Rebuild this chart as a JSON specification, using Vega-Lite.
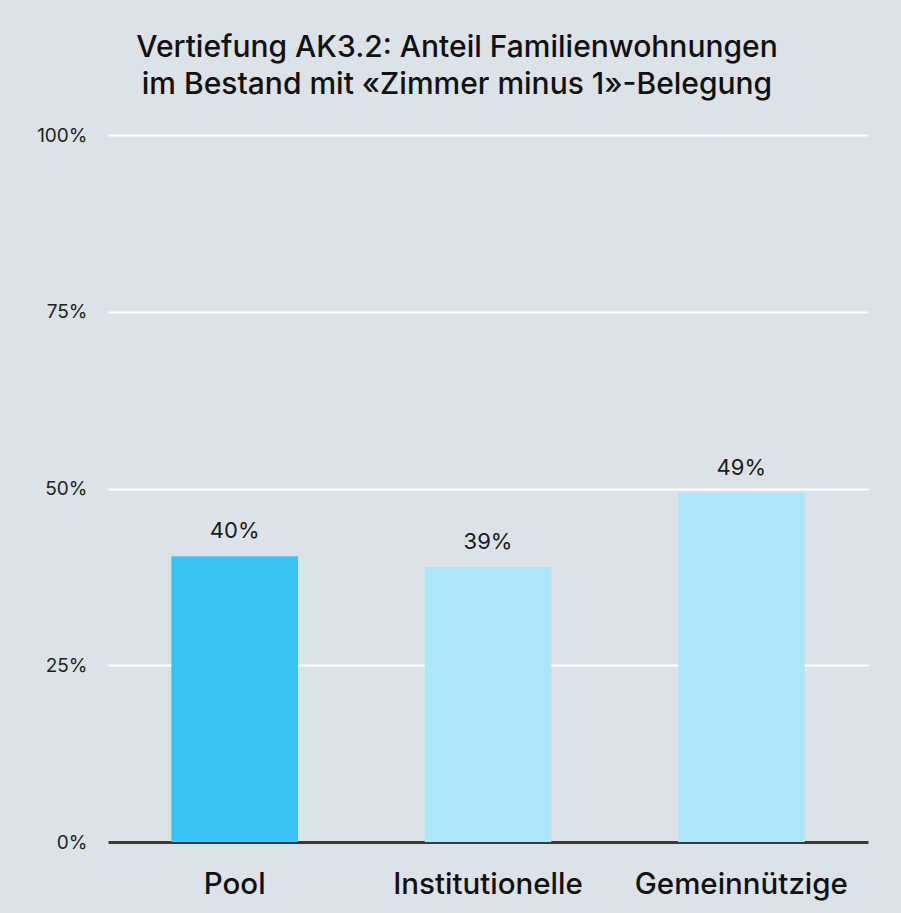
{
  "$schema": "https://vega.github.io/schema/vega-lite/v6.json",
  "width": 760,
  "height": 707,
  "autosize": "none",
  "padding": {"left": 108, "top": 135, "right": 33, "bottom": 71},
  "background": "#dce2e8",
  "config": {
    "view": {"stroke": null},
    "font": "Inter"
  },
  "title": {
    "text": ["Vertiefung AK3.2: Anteil Familienwohnungen", "im Bestand mit «Zimmer minus 1»-Belegung"],
    "font": "Inter",
    "fontSize": 30,
    "fontWeight": 500,
    "color": "#111111",
    "lineHeight": 37,
    "anchor": "middle",
    "dx": -31,
    "offset": 26
  },
  "data": {
    "values": [
      {"category": "Pool", "value": 0.404},
      {"category": "Institutionelle", "value": 0.389},
      {"category": "Gemeinnützige", "value": 0.494}
    ]
  },
  "encoding": {
    "x": {
      "field": "category",
      "type": "nominal",
      "sort": null,
      "scale": {"paddingInner": 0.5, "paddingOuter": 0.25},
      "axis": {
        "title": null,
        "labelAngle": 0,
        "labelLimit": 0,
        "labelFont": "Inter",
        "labelFontSize": 29.5,
        "labelFontWeight": 500,
        "labelColor": "#111111",
        "labelPadding": 28,
        "ticks": false,
        "domain": true,
        "domainColor": "#3a3a3a",
        "domainWidth": 3
      }
    },
    "y": {
      "field": "value",
      "type": "quantitative",
      "scale": {"domain": [0, 1]},
      "axis": {
        "title": null,
        "format": ".0%",
        "values": [0, 0.25, 0.5, 0.75, 1],
        "grid": true,
        "gridColor": "#ffffff",
        "gridWidth": 2,
        "domain": false,
        "ticks": false,
        "labelPadding": 21,
        "labelFont": "Inter",
        "labelFontSize": 19,
        "labelColor": "#222222"
      }
    }
  },
  "layer": [
    {
      "mark": {"type": "bar"},
      "encoding": {
        "color": {
          "field": "category",
          "type": "nominal",
          "scale": {
            "domain": ["Pool", "Institutionelle", "Gemeinnützige"],
            "range": ["#38c5f1", "#ade6f7", "#ade6f7"]
          },
          "legend": null
        }
      }
    },
    {
      "mark": {"type": "text", "baseline": "alphabetic", "dy": -18, "font": "Inter", "fontSize": 22, "color": "#1a1a1a"},
      "encoding": {
        "text": {"field": "value", "type": "quantitative", "format": ".0%"}
      }
    }
  ]
}
